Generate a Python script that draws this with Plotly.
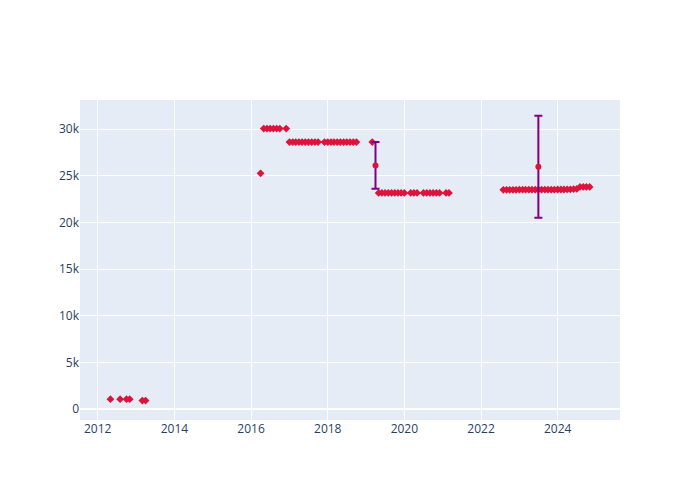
import plotly.graph_objects as go

# Monthly observations (diamonds)
dates = [
    "2012-05-01", "2012-08-01", "2012-10-01", "2012-11-01", "2013-03-01", "2013-04-01",
    "2016-04-01",
    "2016-05-01", "2016-06-01", "2016-07-01", "2016-08-01", "2016-09-01", "2016-10-01", "2016-12-01",
    "2017-01-01", "2017-02-01", "2017-03-01", "2017-04-01", "2017-05-01", "2017-06-01",
    "2017-07-01", "2017-08-01", "2017-09-01", "2017-10-01", "2017-12-01",
    "2018-01-01", "2018-02-01", "2018-03-01", "2018-04-01", "2018-05-01", "2018-06-01",
    "2018-07-01", "2018-08-01", "2018-09-01", "2018-10-01",
    "2019-03-01",
    "2019-05-01", "2019-06-01", "2019-07-01", "2019-08-01", "2019-09-01", "2019-10-01",
    "2019-11-01", "2019-12-01", "2020-01-01",
    "2020-03-01", "2020-04-01", "2020-05-01",
    "2020-07-01", "2020-08-01", "2020-09-01", "2020-10-01", "2020-11-01", "2020-12-01",
    "2021-02-01", "2021-03-01",
    "2022-08-01", "2022-09-01", "2022-10-01", "2022-11-01", "2022-12-01",
    "2023-01-01", "2023-02-01", "2023-03-01", "2023-04-01", "2023-05-01", "2023-06-01",
    "2023-07-01", "2023-08-01", "2023-09-01", "2023-10-01", "2023-11-01", "2023-12-01",
    "2024-01-01", "2024-02-01", "2024-03-01", "2024-04-01", "2024-05-01", "2024-06-01",
    "2024-07-01",
    "2024-08-01", "2024-09-01", "2024-10-01", "2024-11-01",
]
values = [
    1050, 1050, 1050, 1050, 900, 900,
    25250,
    30050, 30050, 30050, 30050, 30050, 30050, 30050,
    28600, 28600, 28600, 28600, 28600, 28600,
    28600, 28600, 28600, 28600, 28600,
    28600, 28600, 28600, 28600, 28600, 28600,
    28600, 28600, 28600, 28600,
    28600,
    23150, 23150, 23150, 23150, 23150, 23150,
    23150, 23150, 23150,
    23150, 23150, 23150,
    23150, 23150, 23150, 23150, 23150, 23150,
    23150, 23150,
    23480, 23480, 23480, 23480, 23480,
    23500, 23500, 23500, 23500, 23500, 23500,
    23500, 23500, 23500, 23500, 23500, 23500,
    23520, 23520, 23520, 23540, 23540, 23560,
    23580,
    23800, 23800, 23800, 23800,
]

# Months with repeated observations: mean and spread
err_dates = ["2019-04-01", "2023-07-01"]
err_means = [26100, 25950]
err_spread = [2500, 5470]

fig = go.Figure()
fig.add_trace(go.Scatter(
    x=dates, y=values, mode="markers",
    marker=dict(symbol="diamond", color="crimson", size=6),
))
fig.add_trace(go.Scatter(
    x=err_dates, y=err_means, mode="markers",
    marker=dict(symbol="circle", color="crimson", size=6),
    error_y=dict(type="data", array=err_spread, visible=True, color="purple", thickness=2, width=4),
))
fig.update_layout(
    width=700, height=500,
    showlegend=False,
    xaxis=dict(range=["2011-07-16", "2025-08-17"]),
    yaxis=dict(range=[-1180, 33110]),
)
fig.write_html("out.html")
